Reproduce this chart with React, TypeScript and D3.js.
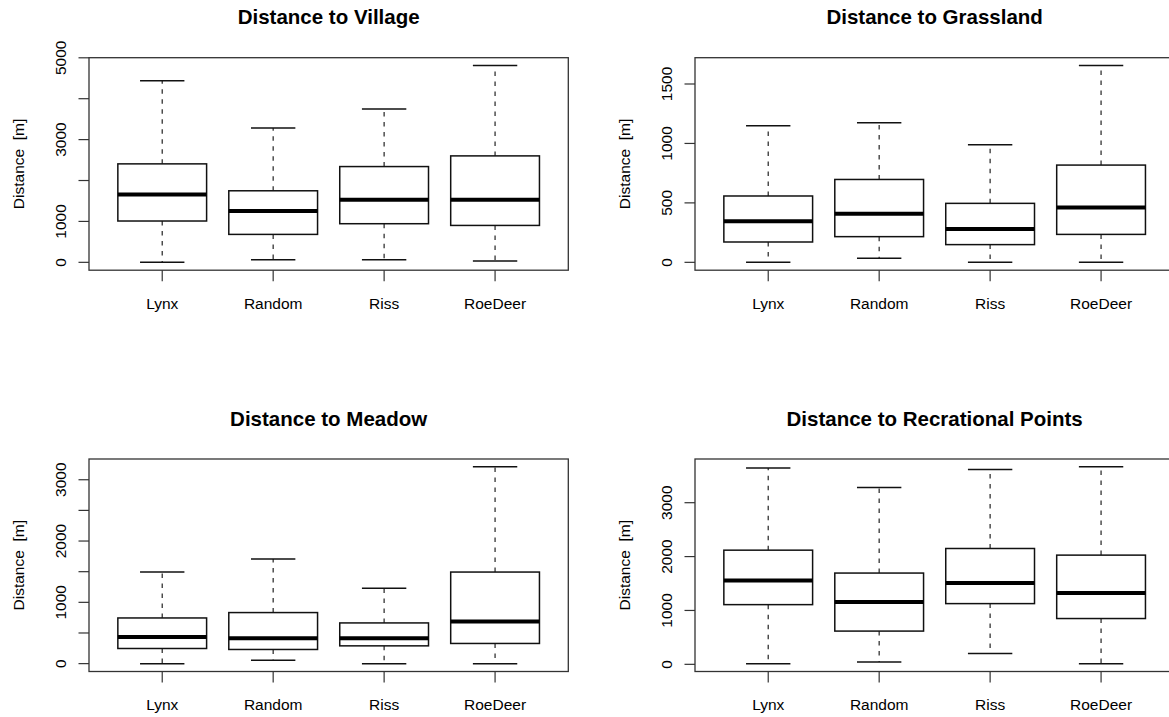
import React from "react";
import * as d3 from "d3";

// ---------- data (five-number summaries: min, Q1, median, Q3, max) ----------
const categories = ["Lynx", "Random", "Riss", "RoeDeer"];

const villageStats = [
  [0, 1010, 1659, 2407, 4439],
  [66, 683, 1254, 1749, 3285],
  [66, 944, 1529, 2341, 3749],
  [34, 902, 1529, 2602, 4810],
];
const grasslandStats = [
  [0, 171, 345, 558, 1149],
  [34, 216, 409, 697, 1174],
  [0, 149, 281, 496, 989],
  [0, 235, 462, 818, 1655],
];
const meadowStats = [
  [0, 247, 436, 745, 1494],
  [57, 231, 415, 833, 1706],
  [0, 290, 415, 664, 1229],
  [0, 329, 687, 1494, 3210],
];
const recreationStats = [
  [13, 1108, 1558, 2119, 3645],
  [44, 617, 1158, 1694, 3283],
  [203, 1127, 1509, 2150, 3615],
  [13, 850, 1325, 2027, 3665],
];

const villageTicks = [0, 1000, 2000, 3000, 4000, 5000];
const grasslandTicks = [0, 500, 1000, 1500];
const meadowTicks = [0, 500, 1000, 1500, 2000, 2500, 3000];
const recreationTicks = [0, 1000, 2000, 3000];

const panelTitles = [
  "Distance to Village",
  "Distance to Grassland",
  "Distance to Meadow",
  "Distance to Recrational Points",
];
const yAxisTitle = "Distance  [m]";

// ---------- layout ----------
const W = 1169;
const H = 717;
const PW = 479.3;
const PH = 212.5;
const FONT = "'Liberation Sans', Arial, sans-serif";
const TICK_FS = 15.5;
const TITLE_FS = 20.5;

const panels = [
  { x: 89, y: 57.7, stats: villageStats, ticks: villageTicks, title: panelTitles[0] },
  { x: 695, y: 57.7, stats: grasslandStats, ticks: grasslandTicks, title: panelTitles[1] },
  { x: 89, y: 459, stats: meadowStats, ticks: meadowTicks, title: panelTitles[2] },
  { x: 695, y: 459, stats: recreationStats, ticks: recreationTicks, title: panelTitles[3] },
];

function labelWidth(t: number) {
  return String(t).length * 0.556 * 15;
}

function visibleLabels(ticks: number[], y: (v: number) => number) {
  const shown: boolean[] = [];
  let last: number | null = null;
  ticks.forEach((t, i) => {
    if (last === null) {
      shown.push(true);
      last = i;
      return;
    }
    const dist = Math.abs(y(t) - y(ticks[last]));
    const need = labelWidth(t) / 2 + labelWidth(ticks[last]) / 2 + 15;
    if (dist >= need) {
      shown.push(true);
      last = i;
    } else shown.push(false);
  });
  return shown;
}

function Panel({ p }: { p: (typeof panels)[number] }) {
  const lo = d3.min(p.stats, (s) => s[0]) as number;
  const hi = d3.max(p.stats, (s) => s[4]) as number;
  const r = hi - lo;
  const y = d3
    .scaleLinear()
    .domain([lo - 0.04 * r, hi + 0.04 * r])
    .range([p.y + PH, p.y]);
  const x = d3
    .scaleLinear()
    .domain([0.34, categories.length + 0.66])
    .range([p.x, p.x + PW]);
  const shown = visibleLabels(p.ticks, y);
  const bottom = p.y + PH;
  const unit = x(1) - x(0);

  return (
    <g>
      <text
        x={p.x + PW / 2}
        y={p.y - 33.5}
        textAnchor="middle"
        fontFamily={FONT}
        fontWeight="bold"
        fontSize={TITLE_FS}
        fill="#000"
      >
        {p.title}
      </text>
      <text
        transform={`translate(${p.x - 64.7},${p.y + PH / 2}) rotate(-90)`}
        textAnchor="middle"
        fontFamily={FONT}
        fontSize={TICK_FS}
        fill="#000"
        style={{ whiteSpace: "pre" }}
      >
        {yAxisTitle}
      </text>
      {/* y axis ticks */}
      {p.ticks.map((t, i) => (
        <g key={t}>
          <line x1={p.x - 10.5} x2={p.x} y1={y(t)} y2={y(t)} stroke="#333" strokeWidth={1.2} />
          {shown[i] && (
            <text
              transform={`translate(${p.x - 23.5},${y(t)}) rotate(-90)`}
              textAnchor="middle"
              fontFamily={FONT}
              fontSize={TICK_FS}
              fill="#000"
            >
              {t}
            </text>
          )}
        </g>
      ))}
      {/* boxes */}
      {p.stats.map((s, i) => {
        const cx = x(i + 1);
        const bw = 0.4 * unit;
        const cw = 0.2 * unit;
        return (
          <g key={categories[i]}>
            <line x1={cx} x2={cx} y1={y(s[3])} y2={y(s[4])} stroke="#333" strokeWidth={1.3} strokeDasharray="4.5,5.5" />
            <line x1={cx} x2={cx} y1={y(s[1])} y2={y(s[0])} stroke="#333" strokeWidth={1.3} strokeDasharray="4.5,5.5" />
            <line x1={cx - cw} x2={cx + cw} y1={y(s[4])} y2={y(s[4])} stroke="#111" strokeWidth={1.5} />
            <line x1={cx - cw} x2={cx + cw} y1={y(s[0])} y2={y(s[0])} stroke="#111" strokeWidth={1.5} />
            <rect
              x={cx - bw}
              y={y(s[3])}
              width={2 * bw}
              height={y(s[1]) - y(s[3])}
              fill="#fff"
              stroke="#111"
              strokeWidth={1.5}
            />
            <line x1={cx - bw} x2={cx + bw} y1={y(s[2])} y2={y(s[2])} stroke="#000" strokeWidth={4} />
            <line x1={cx} x2={cx} y1={bottom} y2={bottom + 11} stroke="#333" strokeWidth={1.2} />
            <text
              x={cx}
              y={bottom + 38.3}
              textAnchor="middle"
              fontFamily={FONT}
              fontSize={TICK_FS}
              fill="#000"
            >
              {categories[i]}
            </text>
          </g>
        );
      })}
      {/* frame */}
      <rect x={p.x} y={p.y} width={PW} height={PH} fill="none" stroke="#333" strokeWidth={1.3} />
    </g>
  );
}

export default function App() {
  return (
    <svg
      width={W}
      height={H}
      style={{ position: "absolute", left: 0, top: 0, background: "#fff" }}
    >
      <rect x={0} y={0} width={W} height={H} fill="#fff" />
      {panels.map((p) => (
        <Panel key={p.title} p={p} />
      ))}
    </svg>
  );
}
